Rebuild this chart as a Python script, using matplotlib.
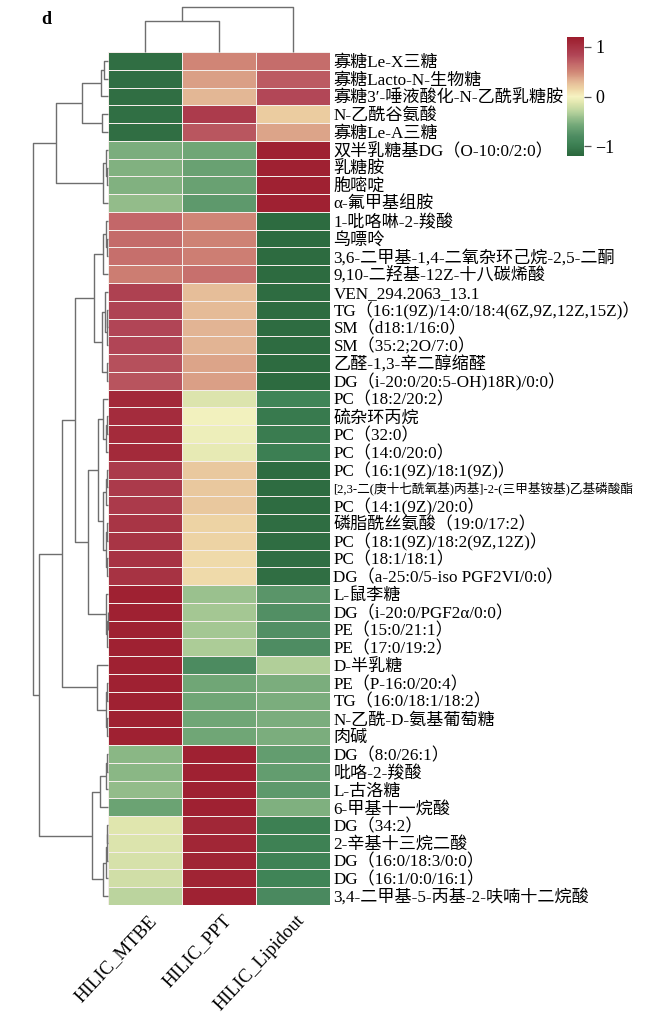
import numpy as np
import matplotlib
matplotlib.use("Agg")
import matplotlib.pyplot as plt
from matplotlib.colors import LinearSegmentedColormap

# ---------------- data ----------------
columns = ["HILIC_MTBE", "HILIC_PPT", "HILIC_Lipidout"]

row_labels = [
    "寡糖Le-X三糖",
    "寡糖Lacto-N-生物糖",
    "寡糖3′-唾液酸化-N-乙酰乳糖胺",
    "N-乙酰谷氨酸",
    "寡糖Le-A三糖",
    "双半乳糖基DG（O-10:0/2:0）",
    "乳糖胺",
    "胞嘧啶",
    "α-氟甲基组胺",
    "1-吡咯啉-2-羧酸",
    "鸟嘌呤",
    "3,6-二甲基-1,4-二氧杂环己烷-2,5-二酮",
    "9,10-二羟基-12Z-十八碳烯酸",
    "VEN_294.2063_13.1",
    "TG（16:1(9Z)/14:0/18:4(6Z,9Z,12Z,15Z)）",
    "SM（d18:1/16:0）",
    "SM（35:2;2O/7:0）",
    "乙醛-1,3-辛二醇缩醛",
    "DG（i-20:0/20:5-OH)18R)/0:0）",
    "PC（18:2/20:2）",
    "硫杂环丙烷",
    "PC（32:0）",
    "PC（14:0/20:0）",
    "PC（16:1(9Z)/18:1(9Z)）",
    "[2,3-二(庚十七酰氧基)丙基]-2-(三甲基铵基)乙基磷酸酯",
    "PC（14:1(9Z)/20:0）",
    "磷脂酰丝氨酸（19:0/17:2）",
    "PC（18:1(9Z)/18:2(9Z,12Z)）",
    "PC（18:1/18:1）",
    "DG（a-25:0/5-iso PGF2VI/0:0）",
    "L-鼠李糖",
    "DG（i-20:0/PGF2α/0:0）",
    "PE（15:0/21:1）",
    "PE（17:0/19:2）",
    "D-半乳糖",
    "PE（P-16:0/20:4）",
    "TG（16:0/18:1/18:2）",
    "N-乙酰-D-氨基葡萄糖",
    "肉碱",
    "DG（8:0/26:1）",
    "吡咯-2-羧酸",
    "L-古洛糖",
    "6-甲基十一烷酸",
    "DG（34:2）",
    "2-辛基十三烷二酸",
    "DG（16:0/18:3/0:0）",
    "DG（16:1/0:0/16:1）",
    "3,4-二甲基-5-丙基-2-呋喃十二烷酸",
]

hilic_mtbe = [-1.13, -1.13, -1.13, -1.12, -1.13, -0.55, -0.52, -0.52, -0.45,
              0.66, 0.64, 0.62, 0.55, 0.88, 0.86, 0.84, 0.84, 0.78, 0.76,
              1.08, 1.05, 1.06, 1.07, 0.93, 0.93, 0.93, 0.98, 0.98, 1.00, 1.00,
              1.15, 1.15, 1.15, 1.15, 1.15, 1.15, 1.15, 1.15, 1.15,
              -0.48, -0.48, -0.45, -0.62, -0.13, -0.15, -0.17, -0.20, -0.30]
hilic_ppt = [0.50, 0.40, 0.30, 0.92, 0.75, -0.60, -0.63, -0.63, -0.70,
             0.50, 0.52, 0.54, 0.61, 0.27, 0.29, 0.31, 0.31, 0.38, 0.40,
             -0.15, -0.02, -0.05, -0.09, 0.22, 0.22, 0.22, 0.16, 0.16, 0.13, 0.13,
             -0.42, -0.38, -0.38, -0.35, -0.82, -0.60, -0.60, -0.60, -0.60,
             1.15, 1.15, 1.15, 1.15, 1.10, 1.11, 1.12, 1.13, 1.14]
hilic_lipidout = [0.63, 0.73, 0.83, 0.20, 0.38, 1.15, 1.15, 1.15, 1.15,
                  -1.16, -1.16, -1.16, -1.16, -1.15, -1.15, -1.15, -1.15, -1.16, -1.16,
                  -0.93, -1.03, -1.01, -0.98, -1.15, -1.15, -1.15, -1.14, -1.14, -1.13, -1.13,
                  -0.73, -0.77, -0.77, -0.80, -0.33, -0.55, -0.55, -0.55, -0.55,
                  -0.67, -0.67, -0.70, -0.53, -0.97, -0.96, -0.95, -0.93, -0.84]

# hierarchical trees: (left, right, link height); leaves are row / column indices
c_1_3 = ((0, 1, 4.0), 2, 7.3)
c_4_5 = (3, 4, 6.3)
c_6_9 = ((5, (6, 7, 1.0), 2.5), 8, 4.7)
c_top = ((c_1_3, c_4_5, 25.7), c_6_9, 52.0)
c_10_13 = ((9, (10, 11, 1.0), 2.5), 12, 4.7)
c_14_19 = ((13, ((14, 15, 0.8), 16, 1.5), 3.0), (17, 18, 1.5), 6.3)
c_20_23 = (19, ((20, 21, 1.0), 22, 2.5), 4.7)
c_24_30 = (((23, 24, 1.0), 25, 2.0), ((26, 27, 1.0), (28, 29, 1.5), 2.5), 4.7)
c_31_34 = (30, ((31, 32, 0.5), 33, 1.0), 1.8)
c_35_39 = (34, ((35, 36, 0.8), (37, 38, 0.8), 2.0), 11.3)
c_40_43 = (((39, 40, 1.0), 41, 2.0), 42, 8.0)
c_44_48 = ((((43, 44, 0.6), 45, 1.2), 46, 2.0), 47, 4.7)
c_20_34 = ((c_20_23, c_24_30, 10.3), c_31_34, 19.7)
c_10_34 = ((c_10_13, c_14_19, 13.7), c_20_34, 33.0)
c_bottom = ((c_10_34, c_35_39, 46.3), (c_40_43, c_44_48, 16.3), 68.7)
row_tree = (c_top, c_bottom, 74.7)
col_tree = ((0, 1, 31.0), 2, 45.0)

cmap_values = [-1.2, -0.95, -0.8, -0.6, -0.45, -0.3, -0.13, 0.0, 0.15, 0.3, 0.5, 0.65, 0.85, 1.2]
cmap_colors = ["#2A673C", "#3F8356", "#4E8C62", "#6FA676", "#92BC8A", "#BAD49E", "#E0E6AE",
               "#F6F3C2", "#EED6A6", "#E4B896", "#D08676", "#C46A6A", "#B04455", "#9C1C2C"]
vmin, vmax = -1.2, 1.2

# ---------------- figure ----------------
W, H = 660, 1018
fig = plt.figure(figsize=(W / 100, H / 100), dpi=100)

def box(x0, y0, x1, y1):
    return [x0 / W, 1 - y1 / H, (x1 - x0) / W, (y1 - y0) / H]

hx0, hx1, hy0, hy1 = 108, 330, 52, 905
serif = ["Liberation Serif", "Noto Sans CJK SC"]

cmap = LinearSegmentedColormap.from_list(
    "custom", [((v - vmin) / (vmax - vmin), c) for v, c in zip(cmap_values, cmap_colors)])

data = np.column_stack([hilic_mtbe, hilic_ppt, hilic_lipidout])
n_rows, n_cols = data.shape

ax = fig.add_axes(box(hx0, hy0, hx1, hy1))
mesh = ax.pcolormesh(np.arange(n_cols + 1), np.arange(n_rows + 1), data, cmap=cmap,
                     vmin=vmin, vmax=vmax, edgecolors="#F4EDEA", linewidth=0.7)
ax.set_xlim(0, n_cols)
ax.set_ylim(n_rows, 0)
for s in ax.spines.values():
    s.set_visible(False)
ax.yaxis.tick_right()
ax.set_yticks(np.arange(n_rows) + 0.5)
ax.set_yticklabels(row_labels, fontsize=12.3, family=serif)
ax.tick_params(axis="y", length=0, pad=2.5)
for t in ax.get_yticklabels():
    if t.get_text().startswith("[2,3-"):
        t.set_fontsize(9.1)
ax.set_xticks([])
for j, name in enumerate(columns):
    ax.annotate(name, xy=(j + 0.5, n_rows), xycoords="data", xytext=(2, -5),
                textcoords="offset points", rotation=47, rotation_mode="anchor",
                ha="right", va="top", fontsize=13.5, family=serif)

line_kw = dict(color="#6E6E6E", lw=1.0, clip_on=False, solid_capstyle="butt")

def draw_tree(axd, node, horizontal):
    if isinstance(node, int):
        return node + 0.5, 0.0
    left, right, h = node
    pl, hl = draw_tree(axd, left, horizontal)
    pr, hr = draw_tree(axd, right, horizontal)
    if horizontal:
        axd.plot([hl, h, h, hr], [pl, pl, pr, pr], **line_kw)
    else:
        axd.plot([pl, pl, pr, pr], [hl, h, h, hr], **line_kw)
    return (pl + pr) / 2, h

# row dendrogram
axr = fig.add_axes(box(0, hy0, hx0, hy1))
draw_tree(axr, row_tree, True)
axr.set_xlim(hx0, 0)
axr.set_ylim(n_rows, 0)
axr.axis("off")

# column dendrogram
axc = fig.add_axes(box(hx0, 0, hx1, hy0))
draw_tree(axc, col_tree, False)
axc.set_xlim(0, n_cols)
axc.set_ylim(0, hy0)
axc.axis("off")

# colour bar
cax = fig.add_axes(box(566.7, 37, 584, 156))
cb = fig.colorbar(mesh, cax=cax, ticks=[-1, 0, 1])
cb.outline.set_visible(False)
cax.tick_params(length=5, width=0.9, color="#555555", pad=3)
for t in cax.get_yticklabels():
    t.set_fontsize(13)
    t.set_family(serif)

fig.text(41 / W, 1 - 19 / H, "d", fontsize=13, fontweight="bold", family=serif, va="center")

fig.savefig("out.png", dpi=100)
